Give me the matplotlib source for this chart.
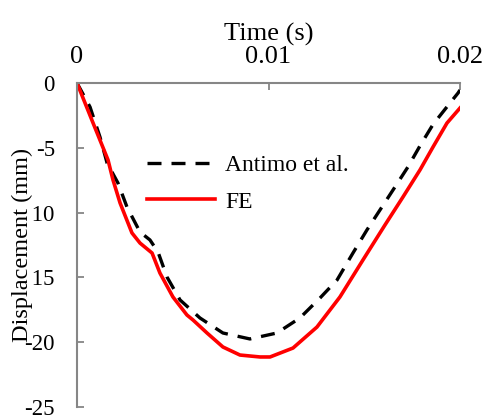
import matplotlib
matplotlib.use("Agg")
import matplotlib.pyplot as plt

t_ref = [0, 0.00068, 0.0012, 0.00157, 0.00214, 0.00261, 0.00329, 0.00381, 0.00423,
         0.0047, 0.00538, 0.00642, 0.00762, 0.00903, 0.01044, 0.01164, 0.01269,
         0.01358, 0.01441, 0.01514, 0.01582, 0.0165, 0.01728, 0.01791, 0.01859,
         0.01948, 0.0199, 0.02]
d_ref = [0, -1.85, -4.17, -6.17, -7.72, -9.57, -11.50, -12.11, -13.04,
         -14.97, -16.74, -18.13, -19.29, -19.75, -19.29, -18.13, -16.59,
         -15.20, -13.12, -11.34, -9.80, -8.26, -6.48, -4.85, -3.20,
         -1.54, -0.77, -0.54]

# FE model
t_fe = [0, 0.00084, 0.00162, 0.00188, 0.00225, 0.00287, 0.00329, 0.00392, 0.00433,
        0.00501, 0.00574, 0.00606, 0.00679, 0.00762, 0.00851, 0.00956, 0.01008,
        0.01128, 0.01253, 0.01373, 0.01493, 0.01608, 0.01702, 0.01791, 0.01859,
        0.01932, 0.02]
d_fe = [0, -3.09, -5.94, -7.48, -9.26, -11.57, -12.35, -13.12, -14.66,
        -16.51, -17.90, -18.29, -19.29, -20.37, -20.99, -21.14, -21.14,
        -20.45, -18.83, -16.51, -13.66, -10.96, -8.80, -6.71, -4.94,
        -3.09, -1.93]

x_ticks = [0, 0.01, 0.02]
x_labels = ["0", "0.01", "0.02"]
y_ticks = [0, -5, -10, -15, -20, -25]
y_labels = ["0", "-5", "-10", "-15", "-20", "-25"]

plt.rcParams["font.family"] = ["Liberation Serif", "DejaVu Serif"]
grey = "#868686"

fig = plt.figure(figsize=(4.82, 4.19), dpi=100)
ax = fig.add_axes([77 / 482, 1 - 407 / 419, 383 / 482, 324 / 419])

ax.plot(t_ref, d_ref, color="black", lw=2.4, dashes=(4.2, 3.0), label="Antimo et al.")
ax.plot(t_fe, d_fe, color="#ff0000", lw=2.6, label="FE")

ax.set_xlim(0, 0.02)
ax.set_ylim(-25, 0)
ax.xaxis.tick_top()
ax.xaxis.set_label_position("top")
ax.set_xticks(x_ticks)
ax.set_xticklabels(x_labels)
ax.set_yticks(y_ticks)
ax.set_yticklabels(y_labels)
ax.tick_params(axis="x", direction="in", length=5, width=1.3, color=grey,
               labelsize=19, pad=11)
ax.tick_params(axis="y", direction="in", length=5, width=1.3, color=grey,
               labelsize=16.5, pad=16)
for side in ["bottom", "right"]:
    ax.spines[side].set_visible(False)
for side in ["top", "left"]:
    ax.spines[side].set_color(grey)
    ax.spines[side].set_linewidth(1.5)

ax.set_xlabel("Time (s)", fontsize=19, labelpad=4)
# axis title sits over the tick labels and hides some minus signs, like the original
ylab = ax.set_ylabel("Displacement (mm)", fontsize=17.5)
ylab.set_bbox(dict(facecolor="white", edgecolor="none", pad=0))
ax.yaxis.set_label_coords(-44 / 383, 0.5)

ax.legend(loc="upper left", bbox_to_anchor=(70 / 383, 0.78), frameon=False,
          fontsize=17, handlelength=2.9, handletextpad=0.42, labelspacing=0.65,
          borderpad=0, borderaxespad=0)

fig.savefig("out.png", dpi=100)
